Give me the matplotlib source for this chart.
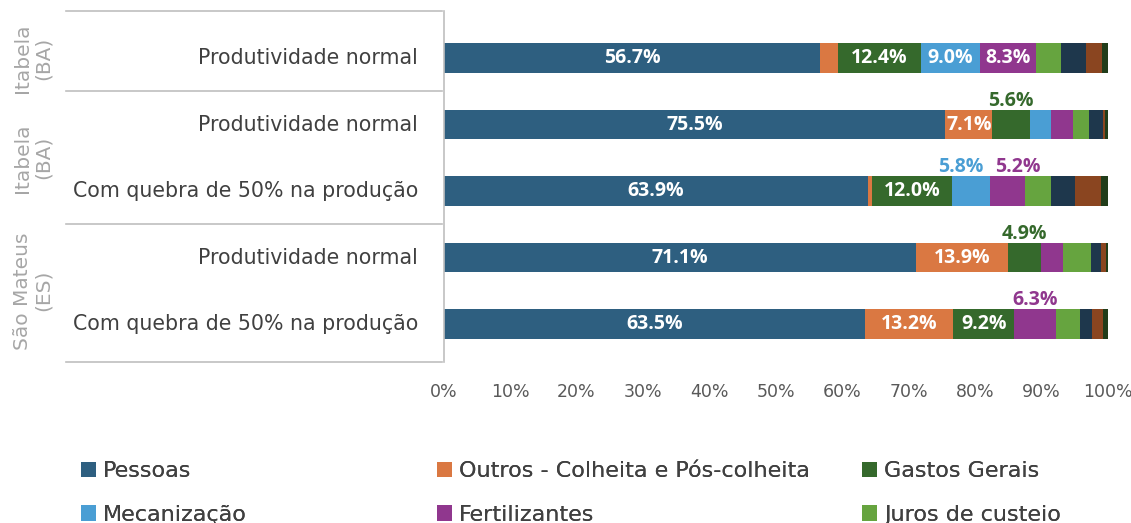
import numpy as np
import matplotlib.pyplot as plt
from matplotlib.lines import Line2D
from matplotlib.patches import Patch
from matplotlib.transforms import blended_transform_factory

plt.rcParams['font.family'] = ['DejaVu Sans']

# ---------------- data ----------------
groups = ["Itabela\n(BA)", "Itabela\n(BA)", "São Mateus\n(ES)"]
group_rows = [(0, 0), (1, 2), (3, 4)]
categories = ["Produtividade normal", "Produtividade normal",
              "Com quebra de 50% na produção", "Produtividade normal",
              "Com quebra de 50% na produção"]
series_names = ["Pessoas", "Outros - Colheita e Pós-colheita", "Gastos Gerais",
                "Mecanização", "Fertilizantes", "Juros de custeio",
                "Defensivos", "Energia", "Outros"]
pessoas      = [56.7, 75.5, 63.9, 71.1, 63.5]
outros_colh  = [2.7, 7.1, 0.6, 13.9, 13.2]
gastos       = [12.4, 5.6, 12.0, 4.9, 9.2]
mecanizacao  = [9.0, 3.2, 5.8, 0.0, 0.0]
fertilizantes = [8.3, 3.3, 5.2, 3.4, 6.3]
juros        = [3.8, 2.4, 3.9, 4.2, 3.6]
defensivos   = [3.8, 2.1, 3.6, 1.5, 1.8]
energia      = [2.4, 0.4, 3.9, 0.7, 1.6]
outros       = [0.9, 0.4, 1.1, 0.3, 0.8]
series = [pessoas, outros_colh, gastos, mecanizacao, fertilizantes,
          juros, defensivos, energia, outros]
colors = ["#2E5F80", "#DA7842", "#35692C", "#4A9ED4", "#90378E",
          "#66A43F", "#1E374C", "#8A4520", "#213D1A"]
x_ticks = [0, 10, 20, 30, 40, 50, 60, 70, 80, 90, 100]

W, H = 1131, 523
fig = plt.figure(figsize=(W / 100, H / 100), dpi=100)
ax = fig.add_axes([443.5 / W, 1 - 362 / H, (1108 - 443.5) / W, (362 - 11) / H])

y = np.arange(len(categories))
left = np.zeros(len(categories))
above = {i: [] for i in range(len(categories))}
for vals, c in zip(series, colors):
    vals = np.array(vals)
    ax.barh(y, vals, left=left, height=0.44, color=c, linewidth=0)
    for i, v in enumerate(vals):
        xc = left[i] + v / 2
        if v >= 7:
            ax.text(xc, y[i], f"{v:.1f}%", ha='center', va='center',
                    color='white', fontsize=14, fontweight='bold',
                    family='Open Sans')
        elif v >= 4.5:
            above[i].append([xc, v, c])
    left += vals

# small segments get their label above the bar, pushed apart if they collide
min_gap = 8.5
for i, labs in above.items():
    for k in range(1, len(labs)):
        d = labs[k][0] - labs[k - 1][0]
        if d < min_gap:
            shift = (min_gap - d) / 2
            labs[k - 1][0] -= shift
            labs[k][0] += shift
    for xc, v, c in labs:
        ax.text(xc, y[i] - 0.285, f"{v:.1f}%", ha='center', va='baseline',
                color=c, fontsize=14, fontweight='bold', family='Open Sans')

ax.set_xlim(0, 100)
ax.set_ylim(4.571, -0.707)
ax.set_xticks(x_ticks)
ax.set_xticklabels([f"{t}%" for t in x_ticks])
ax.set_yticks([])
ax.tick_params(axis='x', length=0, pad=15, labelsize=12.5, labelcolor='#595959')
for s in ['top', 'right', 'bottom']:
    ax.spines[s].set_visible(False)
ax.spines['left'].set_color('#BFBFBF')
ax.spines['left'].set_linewidth(1.2)

# table lines on the left
tr = blended_transform_factory(fig.transFigure, ax.transData)
for yl in [-0.707, 0.5, 2.5, 4.571]:
    fig.add_artist(Line2D([66 / W, 442 / W], [yl, yl], transform=tr,
                          color='#BFBFBF', linewidth=1.2))

# category labels
for i, cat in enumerate(categories):
    fig.text(418 / W, y[i], cat, transform=tr, ha='right', va='center',
             fontsize=14.8, color='#404040')

# group labels
for g, (a, b) in zip(groups, group_rows):
    fig.text(33 / W, (a + b) / 2, g, transform=tr, rotation=90, ha='center',
             va='center', fontsize=14.5, color='#A6A6A6', linespacing=1.1)

# legend, three columns placed by hand
handles = [Patch(facecolor=c, edgecolor='none') for c in colors]
col_x = [81, 437, 862]
for k in range(3):
    idx = [k, k + 3, k + 6]
    leg = fig.legend([handles[i] for i in idx], [series_names[i] for i in idx],
                     loc='upper left', bbox_to_anchor=(col_x[k] / W, 1 - 461 / H),
                     frameon=False, fontsize=16, labelcolor='#404040',
                     handlelength=0.68, handleheight=0.68, handletextpad=0.3,
                     labelspacing=1.07, borderaxespad=0, borderpad=0)
    fig.add_artist(leg)

fig.savefig("out.png", dpi=100)
